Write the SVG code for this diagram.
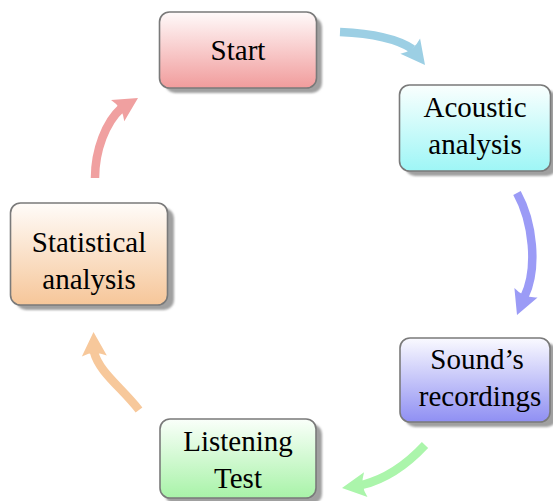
<svg xmlns="http://www.w3.org/2000/svg" xmlns:xlink="http://www.w3.org/1999/xlink" width="553" height="501" viewBox="0 0 553 501">
  <style>
    .box { stroke: #7a7a7a; stroke-width: 1.6; }
    .shadow { fill: #a0a0a0; filter: url(#soft); }
    .label { font-family: "Liberation Serif", "Times New Roman", serif; font-size: 29px; fill: #000; text-anchor: middle; }
    .shaft { fill: none; stroke-width: 8.5; stroke-linecap: butt; }
  </style>
  <defs>
    <filter id="soft" x="-10%" y="-10%" width="120%" height="120%">
      <feGaussianBlur stdDeviation="1.2"/>
    </filter>
    <linearGradient id="gRed" x1="0" y1="0" x2="0" y2="1">
      <stop offset="0" stop-color="#fffafa"/>
      <stop offset="1" stop-color="#f19c9c"/>
    </linearGradient>
    <linearGradient id="gCyan" x1="0" y1="0" x2="0" y2="1">
      <stop offset="0" stop-color="#fafffe"/>
      <stop offset="1" stop-color="#9ef6f6"/>
    </linearGradient>
    <linearGradient id="gBlue" x1="0" y1="0" x2="0" y2="1">
      <stop offset="0" stop-color="#fafaff"/>
      <stop offset="1" stop-color="#8f8ff3"/>
    </linearGradient>
    <linearGradient id="gGreen" x1="0" y1="0" x2="0" y2="1">
      <stop offset="0" stop-color="#fafffa"/>
      <stop offset="1" stop-color="#a8f3a8"/>
    </linearGradient>
    <linearGradient id="gOrange" x1="0" y1="0" x2="0" y2="1">
      <stop offset="0" stop-color="#fffcf9"/>
      <stop offset="1" stop-color="#f6c699"/>
    </linearGradient>
    <!-- arrow tip, pointing along +x with its point at the origin -->
    <path id="head" d="M0,0 L-24,-12.5 Q-18,0 -24,12.5 Z"/>
  </defs>

  <g id="connectors">
    <g id="arrow-start-acoustic" fill="#9ccfe4" stroke="#9ccfe4">
      <path class="shaft" d="M340,32 C362,33 393,36 412.5,49"/>
      <use xlink:href="#head" stroke="none" transform="translate(425,65) rotate(52)"/>
    </g>
    <g id="arrow-acoustic-sound" fill="#9b9bf6" stroke="#9b9bf6">
      <path class="shaft" d="M517,193 C533,222 538,268 524.5,296.5"/>
      <use xlink:href="#head" stroke="none" transform="translate(517,315) rotate(112)"/>
    </g>
    <g id="arrow-sound-listening" fill="#abf5ab" stroke="#abf5ab">
      <path class="shaft" d="M425,445 C412,459 390,478 362,485"/>
      <use xlink:href="#head" stroke="none" transform="translate(342,488) rotate(172)"/>
    </g>
    <g id="arrow-listening-statistical" fill="#f7c89b" stroke="#f7c89b">
      <path class="shaft" d="M139,410 C122,388 99,372 94,352"/>
      <use xlink:href="#head" stroke="none" transform="translate(93.5,332) rotate(-92)"/>
    </g>
    <g id="arrow-statistical-start" fill="#f0a0a0" stroke="#f0a0a0">
      <path class="shaft" d="M95,178 C95,150 106,122 121,108.5"/>
      <use xlink:href="#head" stroke="none" transform="translate(138,98) rotate(-32)"/>
    </g>
  </g>

  <g id="start">
    <rect class="shadow" x="165" y="17" width="157" height="76" rx="10"/>
    <rect class="box" x="159.5" y="12" width="157" height="76" rx="10" fill="url(#gRed)"/>
    <text class="label" x="238" y="60">Start</text>
  </g>

  <g id="acoustic">
    <rect class="shadow" x="405" y="90" width="152" height="86" rx="10"/>
    <rect class="box" x="399.5" y="85" width="151" height="86" rx="10" fill="url(#gCyan)"/>
    <text class="label" x="475" y="117">Acoustic</text>
    <text class="label" x="475" y="154">analysis</text>
  </g>

  <g id="sounds">
    <rect class="shadow" x="405" y="343" width="152" height="84" rx="10"/>
    <rect class="box" x="400" y="338" width="150" height="84" rx="10" fill="url(#gBlue)"/>
    <text class="label" x="477" y="369">Sound’s</text>
    <text class="label" x="480" y="406">recordings</text>
  </g>

  <g id="listening">
    <rect class="shadow" x="165" y="424" width="157" height="80" rx="10"/>
    <rect class="box" x="160" y="419" width="156" height="79" rx="10" fill="url(#gGreen)"/>
    <text class="label" x="238" y="451">Listening</text>
    <text class="label" x="238" y="488">Test</text>
  </g>

  <g id="statistical">
    <rect class="shadow" x="16" y="208" width="158" height="102" rx="10"/>
    <rect class="box" x="10.5" y="203" width="157" height="102" rx="10" fill="url(#gOrange)"/>
    <text class="label" x="89" y="252">Statistical</text>
    <text class="label" x="89" y="289">analysis</text>
  </g>
</svg>
